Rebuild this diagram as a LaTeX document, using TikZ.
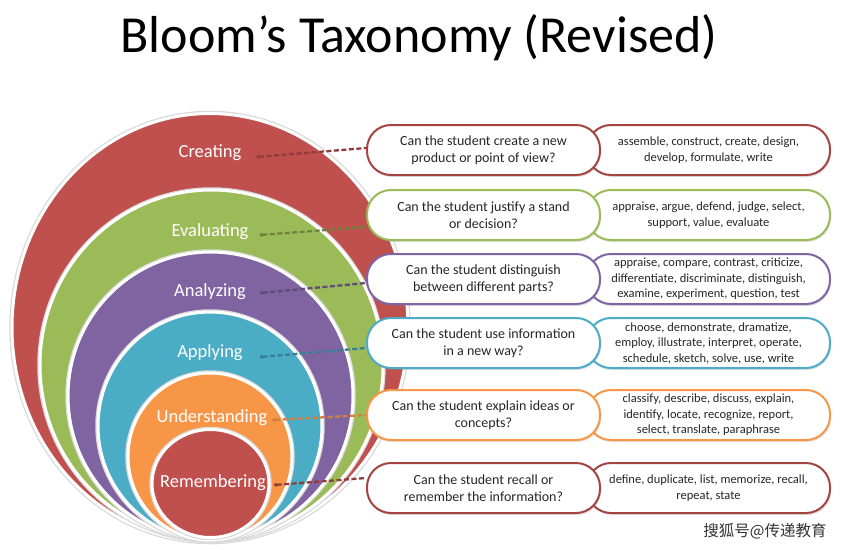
\documentclass[tikz,border=0pt]{standalone}
\usepackage{fontspec}
\setmainfont{Carlito}
\newfontfamily\cjkfont{Noto Sans CJK SC}
\usetikzlibrary{shadows,arrows.meta}

\definecolor{crred}{HTML}{C0504D}
\definecolor{evgreen}{HTML}{9BBB59}
\definecolor{anpurple}{HTML}{8064A2}
\definecolor{apblue}{HTML}{4BACC6}
\definecolor{unorange}{HTML}{F79646}

\tikzset{
  ring/.style={fill=#1,draw=white,line width=3pt},
  halo/.style={draw=black!15,line width=5.5pt},
  lvl/.style={text=white,inner sep=0pt,font=\fontsize{18.5}{20}\selectfont},
  qbox/.style={draw=#1,line width=2pt,fill=white,rounded corners=24pt,
    minimum width=233pt,minimum height=50pt,align=center,inner sep=2pt,
    text=black!85,font=\fontsize{14}{17}\selectfont,
    drop shadow={shadow xshift=1pt,shadow yshift=-2pt,opacity=.25}},
  vbox/.style={qbox=#1,minimum width=243pt,font=\fontsize{12.5}{15.5}\selectfont},
  conn/.style={draw=#1,line width=2.3pt,dash pattern=on 5pt off 2.5pt,
    {Circle[length=3.5pt]}-}
}

\begin{document}
\begin{tikzpicture}[x=1pt,y=-1pt]
\fill[white] (0,0) rectangle (848,549);
\useasboundingbox (0,0) rectangle (848,549);

\node[anchor=base,inner sep=0pt,font=\fontsize{52}{56}\selectfont] (title) at (419,52) {Bloom’s Taxonomy (Revised)};

\draw[halo] (210,327.5) ellipse [x radius=198, y radius=214];
\draw[ring=crred] (210,327.5) ellipse [x radius=198, y radius=214];
\draw[halo] (211.5,365) ellipse [x radius=171.5, y radius=175];
\draw[ring=evgreen] (211.5,365) ellipse [x radius=171.5, y radius=175];
\draw[halo] (210.5,396) ellipse [x radius=142.5, y radius=144];
\draw[ring=anpurple] (210.5,396) ellipse [x radius=142.5, y radius=144];
\draw[halo] (210,426) ellipse [x radius=112, y radius=114];
\draw[ring=apblue] (210,426) ellipse [x radius=112, y radius=114];
\draw[halo] (210,456.5) ellipse [x radius=82, y radius=83.5];
\draw[ring=unorange] (210,456.5) ellipse [x radius=82, y radius=83.5];
\draw[halo] (210.5,483.5) ellipse [x radius=58.5, y radius=54];
\draw[ring=crred] (210.5,483.5) ellipse [x radius=58.5, y radius=54];

\node[lvl] (lbcre) at (210,153) {Creating};
\node[lvl] (lbeva) at (210,232) {Evaluating};
\node[lvl] (lbana) at (210,292) {Analyzing};
\node[lvl] (lbapp) at (210,353) {Applying};
\node[lvl] (lbund) at (212,418) {Understanding};
\node[lvl] (lbrem) at (213,483) {Remembering};

\node[vbox=crred!85!black] (vcre) at (708.5,150) {assemble, construct, create, design,\\develop, formulate, write};
\node[qbox=crred!85!black] (qcre) at (483.5,150) {Can the student create a new\\product or point of view?};
\node[vbox=evgreen] (veva) at (708.5,215) {appraise, argue, defend, judge, select,\\support, value, evaluate};
\node[qbox=evgreen] (qeva) at (483.5,215) {Can the student justify a stand\\or decision?};
\node[vbox=anpurple] (vana) at (708.5,279) {appraise, compare, contrast, criticize,\\differentiate, discriminate, distinguish,\\examine, experiment, question, test};
\node[qbox=anpurple] (qana) at (483.5,279) {Can the student distinguish\\between different parts?};
\node[vbox=apblue] (vapp) at (708.5,343) {choose, demonstrate, dramatize,\\employ, illustrate, interpret, operate,\\schedule, sketch, solve, use, write};
\node[qbox=apblue] (qapp) at (483.5,343) {Can the student use information\\in a new way?};
\node[vbox=unorange] (vund) at (708.5,415) {classify, describe, discuss, explain,\\identify, locate, recognize, report,\\select, translate, paraphrase};
\node[qbox=unorange] (qund) at (483.5,415) {Can the student explain ideas or\\concepts?};
\node[vbox=crred!85!black] (vrem) at (708.5,488) {define, duplicate, list, memorize, recall,\\repeat, state};
\node[qbox=crred!85!black] (qrem) at (483.5,488) {Can the student recall or\\remember the information?};

\draw[conn=crred!75!black] ([xshift=15pt,yshift=-4pt]lbcre.east) -- ([yshift=2pt]qcre.west);
\draw[conn=evgreen!70!black] ([xshift=11pt,yshift=-3pt]lbeva.east) -- ([yshift=-12pt]qeva.west);
\draw[conn=anpurple!75!black] ([xshift=14pt,yshift=-1pt]lbana.east) -- ([yshift=-4pt]qana.west);
\draw[conn=apblue!75!black] ([xshift=17pt,yshift=-4pt]lbapp.east) -- ([yshift=-5pt]qapp.west);
\draw[conn=unorange!85!black] ([xshift=5pt,yshift=-2pt]lbund.east) -- (qund.west);
\draw[conn=crred!75!black] ([xshift=8pt,yshift=-2pt]lbrem.east) -- ([yshift=10pt]qrem.west);

\node[inner sep=0pt,text=black!80,font=\cjkfont\fontsize{15.5}{17}\selectfont] (mark) at (765,531) {搜狐号@传递教育};
\end{tikzpicture}
\end{document}
